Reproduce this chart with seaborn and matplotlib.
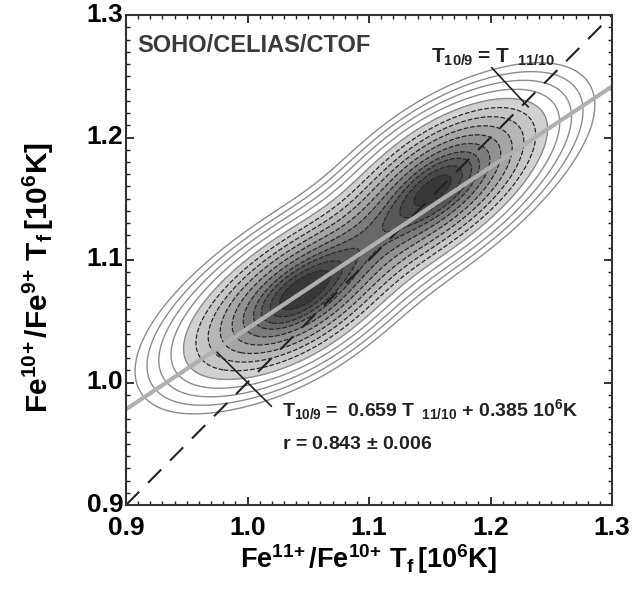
import numpy as np
import seaborn as sns
import matplotlib.pyplot as plt
from matplotlib.ticker import MultipleLocator
from matplotlib.colors import LinearSegmentedColormap
from matplotlib.transforms import ScaledTranslation

# mass locations along the ridge of the distribution, with relative counts
ridge_x = [0.930, 0.950, 0.970, 0.990, 1.010, 1.028, 1.045, 1.062, 1.080, 1.100,
           1.120, 1.138, 1.155, 1.172, 1.190, 1.210, 1.230, 1.250, 1.268]
ridge_y = [1.008, 1.018, 1.030, 1.042, 1.052, 1.062, 1.073, 1.085, 1.098, 1.115,
           1.130, 1.146, 1.160, 1.172, 1.184, 1.198, 1.210, 1.222, 1.232]
ridge_w = [0.08, 0.35, 1.0, 2.4, 4.3, 6.5, 7.5, 6.5, 4.5, 3.8,
           4.5, 6.5, 7.5, 6.5, 4.0, 2.0, 0.7, 0.2, 0.05]
# two sparse far-off counts (outside the view) that widen the kernel across the ridge
far_x = [0.485, 1.715]
far_y = [1.910, 0.330]
far_w = [0.11, 0.11]

# contour levels (iso-proportions)
line_levels_outer = [0.011, 0.020, 0.034, 0.056, 0.089]
line_levels_inner = [0.135, 0.198, 0.278, 0.375, 0.487, 0.607, 0.726, 0.835, 0.923]
fill_levels = [0.089, 0.135, 0.198, 0.278, 0.375, 0.487, 0.607, 0.726, 0.835, 0.923, 1.0]

fit_slope = 0.659
fit_icpt = 0.385
xticks = [0.9, 1.0, 1.1, 1.2, 1.3]
yticks = [0.9, 1.0, 1.1, 1.2, 1.3]

plt.rcParams['font.family'] = ['Liberation Sans', 'DejaVu Sans']
plt.rcParams['mathtext.fontset'] = 'custom'
plt.rcParams['mathtext.rm'] = 'Liberation Sans:bold'
plt.rcParams['mathtext.it'] = 'Liberation Sans:bold'
plt.rcParams['mathtext.bf'] = 'Liberation Sans:bold'
plt.rcParams['mathtext.default'] = 'rm'

fig = plt.figure(figsize=(6.32, 6.0), dpi=100)
ax = fig.add_axes([126 / 632, 95 / 600, 486 / 632, 490 / 600])

kx = ridge_x + far_x
ky = ridge_y + far_y
kw = ridge_w + far_w
bw = 0.4
clip = ((0.9, 1.3), (0.9, 1.3))

grays = LinearSegmentedColormap.from_list('g', ['#d6d6d6', '#8a8a8a', '#303030'])
sns.kdeplot(x=kx, y=ky, weights=kw, fill=True, levels=fill_levels,
            cmap=grays, bw_method=bw, gridsize=200, clip=clip, ax=ax)
sns.kdeplot(x=kx, y=ky, weights=kw, levels=line_levels_outer,
            color='#8c8c8c', linewidths=1.0, bw_method=bw, gridsize=200, clip=clip, ax=ax)
sns.kdeplot(x=kx, y=ky, weights=kw, levels=line_levels_inner,
            color='#2a2a2a', linewidths=0.9, linestyles='--', bw_method=bw, gridsize=200, clip=clip, ax=ax)

xx = np.array([0.9, 1.3])
ax.plot(xx, xx, color='#222222', lw=1.5, dashes=(9, 6))
ax.plot(xx, fit_slope * xx + fit_icpt, color='#b0b0b0', lw=3)

ax.set_xlim(0.9, 1.3)
ax.set_ylim(0.9, 1.3)
ax.set_xticks(xticks)
ax.set_yticks(yticks)
ax.set_xticklabels([f'{t:.1f}' for t in xticks])
ax.set_yticklabels([f'{t:.1f}' for t in yticks])
ax.xaxis.set_minor_locator(MultipleLocator(0.01))
ax.yaxis.set_minor_locator(MultipleLocator(0.01))
ax.tick_params(which='both', direction='in', top=True, right=True, color='#222222')
ax.tick_params(which='major', length=6, width=1.3)
ax.tick_params(which='minor', length=3, width=1.0)
ax.tick_params(axis='x', pad=8)
ax.tick_params(axis='y', pad=2)
for lab in ax.get_xticklabels() + ax.get_yticklabels():
    lab.set_fontsize(19)
    lab.set_fontweight('bold')
for s in ax.spines.values():
    s.set_linewidth(1.5)
    s.set_color('#333333')
ax.set_xlabel('')
ax.set_ylabel('')
# lift the y tick labels a little, as in the reference
for lab in ax.get_yticklabels():
    lab.set_transform(lab.get_transform() + ScaledTranslation(0, 3 / 100, fig.dpi_scale_trans))

ax.text(0.909, 1.270, 'SOHO/CELIAS/CTOF', fontsize=17, fontweight='bold', color='#3a3a3a')
ax.text(1.151, 1.261, r'T$_{10/9}$ = T$_{\ \ 11/10}$', fontsize=15, fontweight='bold', color='#222222')
ax.plot([1.201, 1.231], [1.257, 1.225], color='#222222', lw=1.2)
ax.text(1.028, 0.9725, r'T$_{10/9}$ =  0.659 T$_{\ \ 11/10}$ + 0.385 10$^{6}$K', fontsize=14,
        fontweight='bold', color='#222222')
ax.text(1.028, 0.9456, r'r = 0.843 $\pm$ 0.006', fontsize=14, fontweight='bold', color='#222222')
ax.plot([0.975, 1.0196], [1.0246, 0.9807], color='#222222', lw=1.2)

fig.text(368 / 632, 32 / 600, r'$\mathbf{Fe^{11\!+}/Fe^{10\!+}\,T_f\,[10^6K]}$', fontsize=19.5,
         ha='center', va='baseline')
fig.text(38 / 632, (600 - 277) / 600, r'$\mathbf{Fe^{10\!+}/Fe^{9\!+}\,T_f\,[10^6K]}$', fontsize=21.5,
         ha='center', va='center', rotation=90)

fig.savefig('out.png', dpi=100)
